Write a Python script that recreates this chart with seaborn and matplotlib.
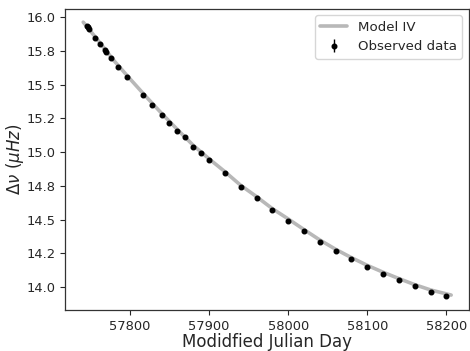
import numpy as np
import pandas as pd
import matplotlib
matplotlib.use('Agg')
import matplotlib.pyplot as plt
import seaborn as sns
from matplotlib.ticker import MultipleLocator, FormatStrFormatter

sns.set_style('ticks')
plt.rcParams['font.family'] = ['DejaVu Sans']
plt.rcParams['mathtext.fontset'] = 'dejavusans'

# Observed data (MJD, large frequency separation in muHz)
obs_mjd = [57745.5, 57747, 57748.5, 57756, 57762, 57768, 57770, 57776, 57784.5,
           57796, 57816, 57828, 57840, 57850, 57860, 57870, 57880, 57890, 57900,
           57920, 57940, 57960, 57980, 58000, 58020, 58040, 58060, 58080, 58100,
           58120, 58140, 58160, 58180, 58200]
obs_dnu = [15.935, 15.925, 15.912, 15.847, 15.798, 15.756, 15.743, 15.694, 15.632,
           15.558, 15.427, 15.353, 15.276, 15.217, 15.156, 15.109, 15.039, 14.993, 14.939,
           14.844, 14.743, 14.659, 14.570, 14.494, 14.415, 14.338, 14.269, 14.207, 14.150,
           14.099, 14.052, 14.007, 13.968, 13.933]
obs_err = [0.004] * len(obs_mjd)

# Model IV curve
model_mjd = [57741, 57760, 57780, 57800, 57820, 57840, 57860, 57880, 57900, 57920,
             57940, 57960, 57980, 58000, 58020, 58040, 58060, 58080, 58100, 58120,
             58140, 58160, 58180, 58206]
model_dnu = [15.963, 15.826, 15.677, 15.544, 15.414, 15.288, 15.168, 15.051, 14.951, 14.856,
             14.755, 14.671, 14.582, 14.506, 14.427, 14.350, 14.281, 14.219, 14.162, 14.111,
             14.064, 14.019, 13.980, 13.942]

model = pd.DataFrame({'mjd': model_mjd, 'dnu': model_dnu})

fig, ax = plt.subplots(figsize=(4.70, 3.51), dpi=100)
fig.subplots_adjust(left=0.138, right=0.997, bottom=0.117, top=0.975)

sns.lineplot(data=model, x='mjd', y='dnu', ax=ax, color='#b8b8b8', linewidth=2.6,
             label='Model IV', zorder=1)
ax.errorbar(obs_mjd, obs_dnu, yerr=obs_err, fmt='o', color='black', markersize=3.3,
            elinewidth=1, label='Observed data', zorder=2)

ax.set_xlim(57717.8, 58228)
ax.set_ylim(13.832, 16.062)
ax.yaxis.set_major_locator(MultipleLocator(0.25))
ax.yaxis.set_major_formatter(FormatStrFormatter('%.1f'))
ax.xaxis.set_major_locator(MultipleLocator(100))
ax.tick_params(labelsize=9.4, length=3.5, width=0.8)

ax.set_xlabel('Modidfied Julian Day', fontsize=12, labelpad=0)
ax.set_ylabel(r'$\Delta\nu\ (\mu Hz)$', fontsize=12, labelpad=0)
ax.legend(loc='upper right', fontsize=9.6)

for s in ax.spines.values():
    s.set_color('#333333')
    s.set_linewidth(0.9)

fig.savefig('out.png', dpi=100)
